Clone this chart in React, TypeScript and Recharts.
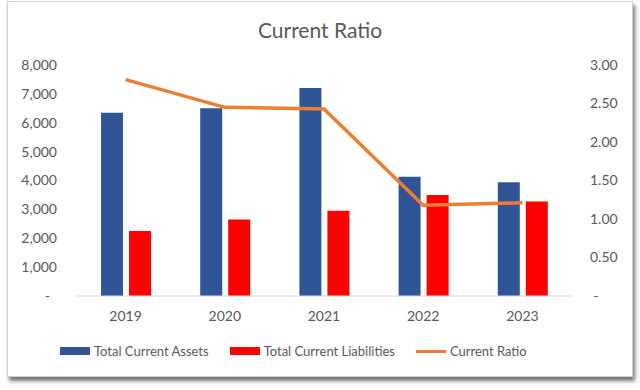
import {
  ComposedChart,
  Bar,
  Line,
  XAxis,
  YAxis,
  Legend,
} from "recharts";

const years = ["2019", "2020", "2021", "2022", "2023"];
const totalCurrentAssets = [6350, 6500, 7200, 4130, 3940];
const totalCurrentLiabilities = [2250, 2650, 2950, 3500, 3270];
const currentRatio = [2.81, 2.45, 2.43, 1.18, 1.21];

const leftTicks = [0, 1000, 2000, 3000, 4000, 5000, 6000, 7000, 8000];
const rightTicks = [0, 0.5, 1, 1.5, 2, 2.5, 3];

const seriesNames = ["Total Current Assets", "Total Current Liabilities", "Current Ratio"];
const seriesColors = ["#2F5597", "#FF0000", "#ED7D31"];

const font = "Lato, 'Open Sans', sans-serif";
const textColor = "#595959";

const chartData = years.map((year, i) => ({
  year,
  assets: totalCurrentAssets[i],
  liabilities: totalCurrentLiabilities[i],
  ratio: currentRatio[i],
}));

function LegendContent() {
  return (
    <div
      style={{
        display: "flex",
        alignItems: "center",
        height: 30,
        paddingLeft: 52,
        fontFamily: font,
        fontSize: 13,
        color: textColor,
      }}
    >
      {seriesNames.map((name, i) => (
        <div
          key={name}
          style={{ display: "flex", alignItems: "center", marginRight: 21 }}
        >
          <div
            style={{
              width: 30,
              height: i === 2 ? 3 : 8,
              background: seriesColors[i],
              marginRight: 4,
            }}
          />
          <span>{name}</span>
        </div>
      ))}
    </div>
  );
}

export default function App() {
  return (
    <div
      style={{
        position: "absolute",
        left: 7,
        top: 1,
        width: 626,
        height: 376,
        boxSizing: "border-box",
        border: "1px solid #d0d0d0",
        background: "#fff",
        boxShadow: "2px 4px 4px rgba(0,0,0,0.55)",
      }}
    >
      <div
        style={{
          position: "absolute",
          top: 15,
          left: 0,
          width: "100%",
          textAlign: "center",
          fontFamily: font,
          fontSize: 21,
          color: textColor,
        }}
      >
        Current Ratio
      </div>
      <ComposedChart
        width={624}
        height={374}
        data={chartData}
        margin={{ top: 63, right: 0, left: 0, bottom: 20 }}
        barSize={22}
        barGap={6}
      >
        <XAxis
          dataKey="year"
          height={30}
          tickLine={false}
          tickSize={0}
          tickMargin={15}
          axisLine={{ stroke: "#d9d9d9" }}
          tick={{ fill: textColor, fontSize: 14, fontFamily: font }}
        />
        <YAxis
          yAxisId="left"
          width={68}
          domain={[0, 8000]}
          ticks={leftTicks}
          interval={0}
          tickLine={false}
          axisLine={false}
          tickSize={0}
          tickMargin={19}
          tickFormatter={(v: number) =>
            v === 0 ? "-\u00a0\u00a0" : v.toLocaleString("en-US")
          }
          tick={{ fill: textColor, fontSize: 14, fontFamily: font }}
        />
        <YAxis
          yAxisId="right"
          orientation="right"
          width={60}
          domain={[0, 3]}
          ticks={rightTicks}
          interval={0}
          tickLine={false}
          axisLine={false}
          tickSize={0}
          tickMargin={18}
          tickFormatter={(v: number) => (v === 0 ? "\u00a0-" : v.toFixed(2))}
          tick={{ fill: textColor, fontSize: 14, fontFamily: font }}
        />
        <Bar
          yAxisId="left"
          dataKey="assets"
          name={seriesNames[0]}
          fill={seriesColors[0]}
          isAnimationActive={false}
        />
        <Bar
          yAxisId="left"
          dataKey="liabilities"
          name={seriesNames[1]}
          fill={seriesColors[1]}
          isAnimationActive={false}
        />
        <Line
          yAxisId="right"
          dataKey="ratio"
          name={seriesNames[2]}
          type="linear"
          stroke={seriesColors[2]}
          strokeWidth={3.5}
          dot={false}
          isAnimationActive={false}
        />
        <Legend
          verticalAlign="bottom"
          content={() => <LegendContent />}
          wrapperStyle={{ bottom: 10, height: 30 }}
        />
      </ComposedChart>
    </div>
  );
}
